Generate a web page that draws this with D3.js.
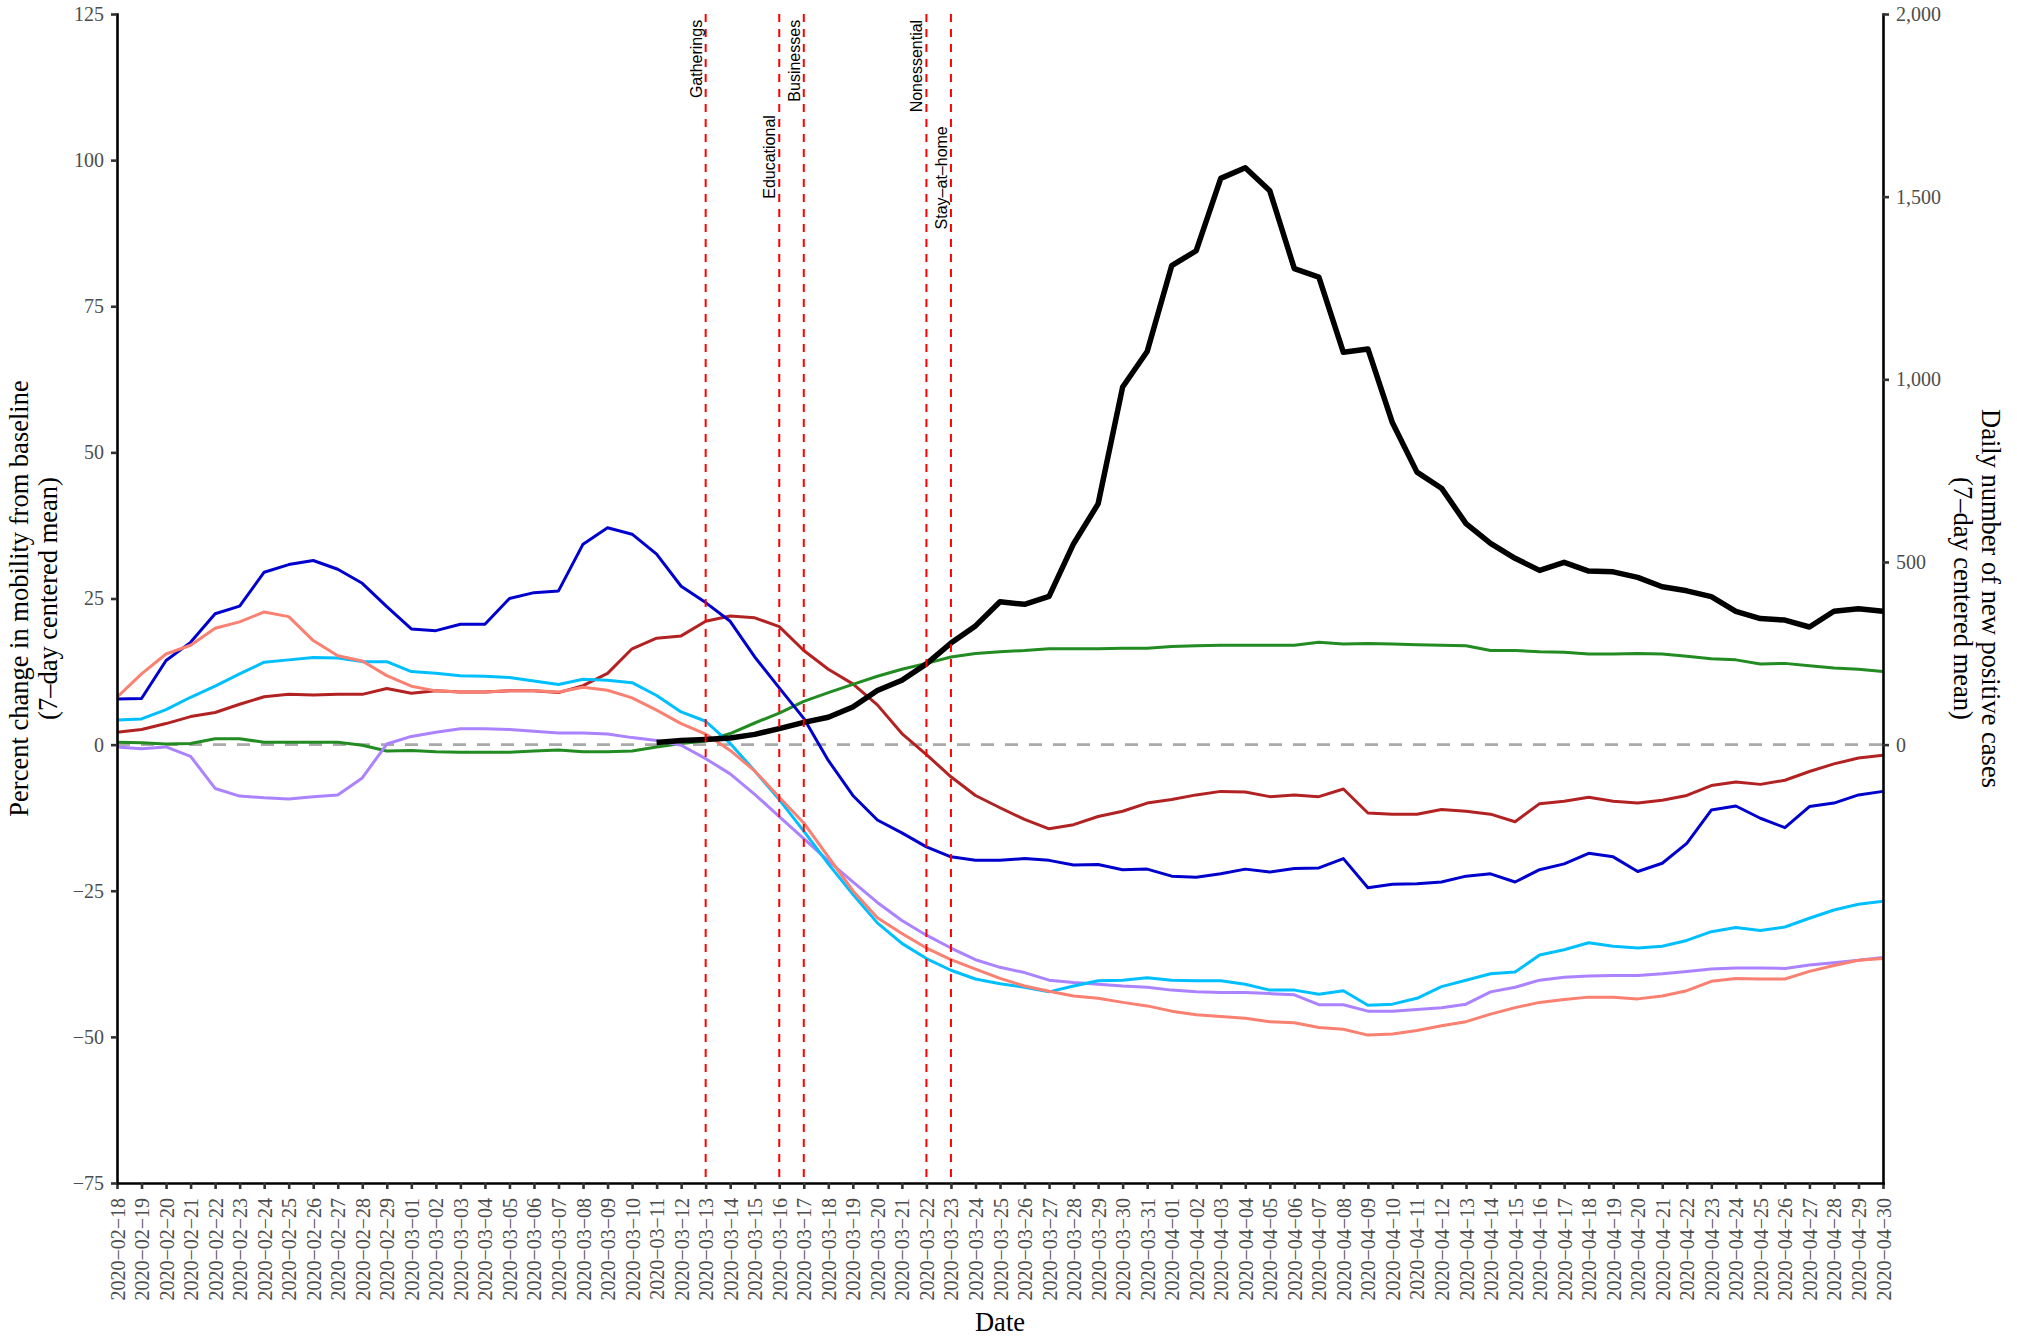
<!DOCTYPE html>
<html>
<head>
<meta charset="utf-8">
<script src="https://cdn.jsdelivr.net/npm/d3@7"></script>
<style>
  body { margin: 0; background: #fff; }
  svg { display: block; }
</style>
</head>
<body>
<div id="chart"></div>
<script>
// dates on the x axis (one tick per day)
const dates = [
  '2020-02-18','2020-02-19','2020-02-20','2020-02-21','2020-02-22','2020-02-23','2020-02-24','2020-02-25',
  '2020-02-26','2020-02-27','2020-02-28','2020-02-29',
  '2020-03-01','2020-03-02','2020-03-03','2020-03-04','2020-03-05','2020-03-06','2020-03-07','2020-03-08',
  '2020-03-09','2020-03-10','2020-03-11','2020-03-12','2020-03-13','2020-03-14','2020-03-15','2020-03-16',
  '2020-03-17','2020-03-18','2020-03-19','2020-03-20','2020-03-21','2020-03-22','2020-03-23','2020-03-24',
  '2020-03-25','2020-03-26','2020-03-27','2020-03-28','2020-03-29','2020-03-30','2020-03-31',
  '2020-04-01','2020-04-02','2020-04-03','2020-04-04','2020-04-05','2020-04-06','2020-04-07','2020-04-08',
  '2020-04-09','2020-04-10','2020-04-11','2020-04-12','2020-04-13','2020-04-14','2020-04-15','2020-04-16',
  '2020-04-17','2020-04-18','2020-04-19','2020-04-20','2020-04-21','2020-04-22','2020-04-23','2020-04-24',
  '2020-04-25','2020-04-26','2020-04-27','2020-04-28','2020-04-29','2020-04-30'
];

// mobility change (% from baseline, 7-day centered mean)
const retail = [
  8.1, 12.1, 15.5, 17.0, 19.9, 21.0, 22.7, 21.9, 17.8, 15.2, 14.3, 11.8, 10.0, 9.2, 9.0, 9.0, 9.2, 9.2, 9.0, 9.8, 9.3, 8.0, 5.9, 3.6, 1.8,
  -1.0, -4.5, -9.0, -13.4, -19.2, -25.0, -29.6, -32.3, -34.8, -36.8, -38.4, -40.0, -41.3, -42.2, -43.0, -43.4, -44.1, -44.7, -45.6, -46.2, -46.5, -46.8, -47.4, -47.6,
  -48.4, -48.7, -49.7, -49.5, -48.9, -48.1, -47.4, -46.1, -45.0, -44.1, -43.6, -43.2, -43.2, -43.5, -43.0, -42.1, -40.5, -40.0, -40.1, -40.1, -38.8, -37.8, -36.9, -36.6
];
const transit = [
  4.2, 4.4, 6.0, 8.1, 10.0, 12.1, 14.1, 14.5, 14.9, 14.8, 14.2, 14.2, 12.5, 12.2, 11.8, 11.7, 11.5, 10.9, 10.3, 11.2, 11.0, 10.6, 8.4, 5.6, 4.0,
  0.2, -4.5, -9.4, -14.8, -20.4, -25.6, -30.5, -34.0, -36.6, -38.6, -40.1, -40.9, -41.5, -42.3, -41.3, -40.4, -40.3, -39.9, -40.3, -40.4, -40.4, -41.0, -42.0, -42.0,
  -42.7, -42.1, -44.6, -44.4, -43.4, -41.4, -40.3, -39.2, -38.9, -36.0, -35.1, -33.9, -34.5, -34.8, -34.5, -33.5, -32.0, -31.3, -31.8, -31.2, -29.7, -28.3, -27.3, -26.8
];
const workplaces = [
  -0.4, -0.7, -0.4, -2.0, -7.5, -8.8, -9.1, -9.3, -8.9, -8.6, -5.7, 0.1, 1.4, 2.1, 2.7, 2.7, 2.6, 2.3, 2.0, 2.0, 1.8, 1.2, 0.7, -0.1, -2.4,
  -5.0, -8.5, -12.3, -16.1, -19.9, -23.5, -27.0, -30.1, -32.6, -34.8, -36.8, -38.1, -39.0, -40.3, -40.7, -41.0, -41.3, -41.5, -42.0, -42.3, -42.4, -42.4, -42.6, -42.8,
  -44.5, -44.5, -45.6, -45.6, -45.3, -45.0, -44.4, -42.3, -41.5, -40.3, -39.8, -39.6, -39.5, -39.5, -39.2, -38.8, -38.4, -38.2, -38.2, -38.3, -37.7, -37.3, -36.9, -36.4
];
const parks = [
  7.8, 7.9, 14.4, 17.5, 22.4, 23.7, 29.5, 30.8, 31.5, 30.0, 27.6, 23.6, 19.8, 19.5, 20.6, 20.6, 25.0, 26.0, 26.3, 34.3, 37.1, 36.0, 32.6, 27.1, 24.3,
  21.1, 15.0, 9.7, 4.5, -2.7, -8.7, -12.9, -15.1, -17.5, -19.2, -19.8, -19.8, -19.5, -19.8, -20.6, -20.5, -21.4, -21.3, -22.5, -22.7, -22.1, -21.3, -21.8, -21.2,
  -21.1, -19.5, -24.5, -23.9, -23.8, -23.5, -22.5, -22.1, -23.5, -21.4, -20.4, -18.6, -19.2, -21.7, -20.3, -16.9, -11.2, -10.5, -12.6, -14.2, -10.6, -10.0, -8.6, -8.0
];
const grocery = [
  2.1, 2.6, 3.6, 4.8, 5.5, 6.9, 8.2, 8.6, 8.5, 8.6, 8.6, 9.6, 8.8, 9.2, 9.0, 9.0, 9.2, 9.2, 8.9, 10.1, 12.2, 16.4, 18.2, 18.6, 21.1,
  22.0, 21.7, 20.2, 16.1, 12.9, 10.4, 6.8, 1.9, -1.7, -5.5, -8.7, -10.8, -12.8, -14.4, -13.7, -12.3, -11.4, -10.0, -9.4, -8.6, -8.0, -8.1, -8.9, -8.6,
  -8.9, -7.6, -11.7, -11.9, -11.9, -11.1, -11.4, -11.9, -13.2, -10.1, -9.7, -9.0, -9.7, -10.0, -9.5, -8.7, -7.0, -6.4, -6.8, -6.1, -4.6, -3.3, -2.3, -1.8
];
const residential = [
  0.4, 0.3, 0.1, 0.2, 1.0, 1.0, 0.4, 0.4, 0.4, 0.4, -0.1, -1.1, -1.0, -1.2, -1.3, -1.3, -1.3, -1.1, -0.9, -1.2, -1.2, -1.1, -0.4, 0.2, 0.6,
  1.9, 3.7, 5.4, 7.4, 8.9, 10.3, 11.7, 12.9, 13.9, 15.0, 15.6, 15.9, 16.1, 16.4, 16.4, 16.4, 16.5, 16.5, 16.8, 16.9, 17.0, 17.0, 17.0, 17.0,
  17.5, 17.2, 17.3, 17.2, 17.1, 17.0, 16.9, 16.1, 16.1, 15.9, 15.8, 15.5, 15.5, 15.6, 15.5, 15.1, 14.7, 14.5, 13.8, 13.9, 13.5, 13.1, 12.9, 12.5
];

// daily new positive cases (7-day centered mean), starts 2020-03-11
const cases = [
  null, null, null, null, null, null, null, null, null, null, null,
  null, null, null, null, null, null, null, null, null, null, null,
  6, 11, 14, 18, 28, 44, 61, 75, 103, 148, 176, 221, 278, 325, 391, 384, 406, 550, 659, 979, 1076, 1311, 1352, 1550, 1579, 1516, 1303,
  1280, 1074, 1083, 881, 746, 702, 605, 551, 510, 477, 499, 475, 473, 458, 432, 421, 405, 365, 345, 341, 322, 365, 372, 365
];

// policy dates
const interventionDates = ['2020-03-13', '2020-03-16', '2020-03-17', '2020-03-22', '2020-03-23'];
const interventionLabels = ['Gatherings', 'Educational', 'Businesses', 'Nonessential', 'Stay\u2013at\u2013home'];

const leftTicks = [-75, -50, -25, 0, 25, 50, 75, 100, 125];
const rightTicks = [0, 500, 1000, 1500, 2000];

// set the dimensions and margins of the graph
const margin = { top: 14, right: 134, bottom: 157, left: 117 },
  width = 2017 - margin.left - margin.right,
  height = 1340 - margin.top - margin.bottom;

const svg = d3.select('#chart')
  .append('svg')
  .attr('width', width + margin.left + margin.right)
  .attr('height', height + margin.top + margin.bottom)
  .append('g')
  .attr('transform', `translate(${margin.left},${margin.top})`);

const serif = "'Liberation Serif', 'Times New Roman', serif";
const sans = "'Liberation Sans', Arial, sans-serif";

// scales
const x = d3.scalePoint().domain(dates).range([0, width]);
const y = d3.scaleLinear().domain([-75, 125]).range([height, 0]);
// cases share the plot: 0 lines up with 0%, 2000 with 125%
const yR = d3.scaleLinear().domain([-1200, 2000]).range([height, 0]);

// zero reference line
svg.append('line')
  .attr('x1', 0).attr('x2', width)
  .attr('y1', y(0)).attr('y2', y(0))
  .attr('stroke', '#a9a9a9')
  .attr('stroke-width', 2.6)
  .attr('stroke-dasharray', '13,11');

// mobility lines
const mobility = [
  { values: grocery, color: '#B22222' },
  { values: residential, color: '#228B22' },
  { values: parks, color: '#0000CD' },
  { values: workplaces, color: '#AB82FF' },
  { values: transit, color: '#00BFFF' },
  { values: retail, color: '#FA8072' },
];

const line = d3.line()
  .defined(d => d.v != null)
  .x(d => x(d.date))
  .y(d => y(d.v));

svg.append('g')
  .selectAll('path')
  .data(mobility)
  .join('path')
  .attr('d', s => line(s.values.map((v, i) => ({ date: dates[i], v }))))
  .attr('fill', 'none')
  .attr('stroke', s => s.color)
  .attr('stroke-width', 3)
  .attr('stroke-linejoin', 'round');

// cases line on the secondary axis
const caseLine = d3.line()
  .defined(d => d.v != null)
  .x(d => x(d.date))
  .y(d => yR(d.v));

svg.append('path')
  .attr('d', caseLine(cases.map((v, i) => ({ date: dates[i], v }))))
  .attr('fill', 'none')
  .attr('stroke', '#000')
  .attr('stroke-width', 5.5)
  .attr('stroke-linejoin', 'round');

// intervention lines
svg.append('g')
  .selectAll('line')
  .data(interventionDates)
  .join('line')
  .attr('x1', d => x(d)).attr('x2', d => x(d))
  .attr('y1', 0).attr('y2', height)
  .attr('stroke', '#ff0000')
  .attr('stroke-width', 2)
  .attr('stroke-dasharray', '8,7');

// label tops, in % units
const labelLevel = [124, 107.7, 124, 124, 105.8];
svg.append('g')
  .selectAll('text')
  .data(interventionLabels)
  .join('text')
  .attr('transform', (d, i) => `translate(${x(interventionDates[i]) - 4},${y(labelLevel[i])}) rotate(-90)`)
  .attr('text-anchor', 'end')
  .style('font-family', sans)
  .style('font-size', '16px')
  .attr('fill', '#000')
  .text(d => d);

// axes
const styleAxis = g => {
  g.attr('font-family', serif).attr('font-size', 20);
  g.select('.domain').attr('stroke', '#000').attr('stroke-width', 2.6).attr('stroke-linecap', 'square');
  g.selectAll('.tick line').attr('stroke', '#333').attr('stroke-width', 2.6);
  g.selectAll('.tick text').attr('fill', '#4d4d4d');
};

const gx = svg.append('g')
  .attr('transform', `translate(0,${height})`)
  .call(d3.axisBottom(x).tickSize(6).tickSizeOuter(0).tickFormat(d => d.replace(/-/g, '\u2212')))
  .call(styleAxis);
gx.selectAll('.tick text')
  .attr('transform', 'rotate(-90)')
  .attr('text-anchor', 'end')
  .attr('x', -15)
  .attr('y', 0)
  .attr('dy', '0.35em');

svg.append('g')
  .call(d3.axisLeft(y).tickValues(leftTicks).tickSize(6).tickPadding(7).tickSizeOuter(0))
  .call(styleAxis);

svg.append('g')
  .attr('transform', `translate(${width},0)`)
  .call(d3.axisRight(yR).tickValues(rightTicks).tickSize(6).tickPadding(7).tickSizeOuter(0).tickFormat(d3.format(',')))
  .call(styleAxis);

// axis titles
svg.append('text')
  .attr('x', width / 2)
  .attr('y', 1331 - margin.top)
  .attr('text-anchor', 'middle')
  .style('font-family', serif)
  .style('font-size', '26.5px')
  .text('Date');

const leftTitle = svg.append('text')
  .attr('transform', `translate(${28 - margin.left},${height / 2}) rotate(-90)`)
  .attr('text-anchor', 'middle')
  .style('font-family', serif)
  .style('font-size', '26.5px');
leftTitle.append('tspan').attr('x', 0).attr('y', 0).text('Percent change in mobility from baseline');
leftTitle.append('tspan').attr('x', 0).attr('y', 29).text('(7\u2013day centered mean)');

const rightTitle = svg.append('text')
  .attr('transform', `translate(${1982 - margin.left},${height / 2}) rotate(90)`)
  .attr('text-anchor', 'middle')
  .style('font-family', serif)
  .style('font-size', '26.5px');
rightTitle.append('tspan').attr('x', 0).attr('y', 0).text('Daily number of new positive cases');
rightTitle.append('tspan').attr('x', 0).attr('y', 28).text('(7\u2013day centered mean)');
</script>
</body>
</html>
